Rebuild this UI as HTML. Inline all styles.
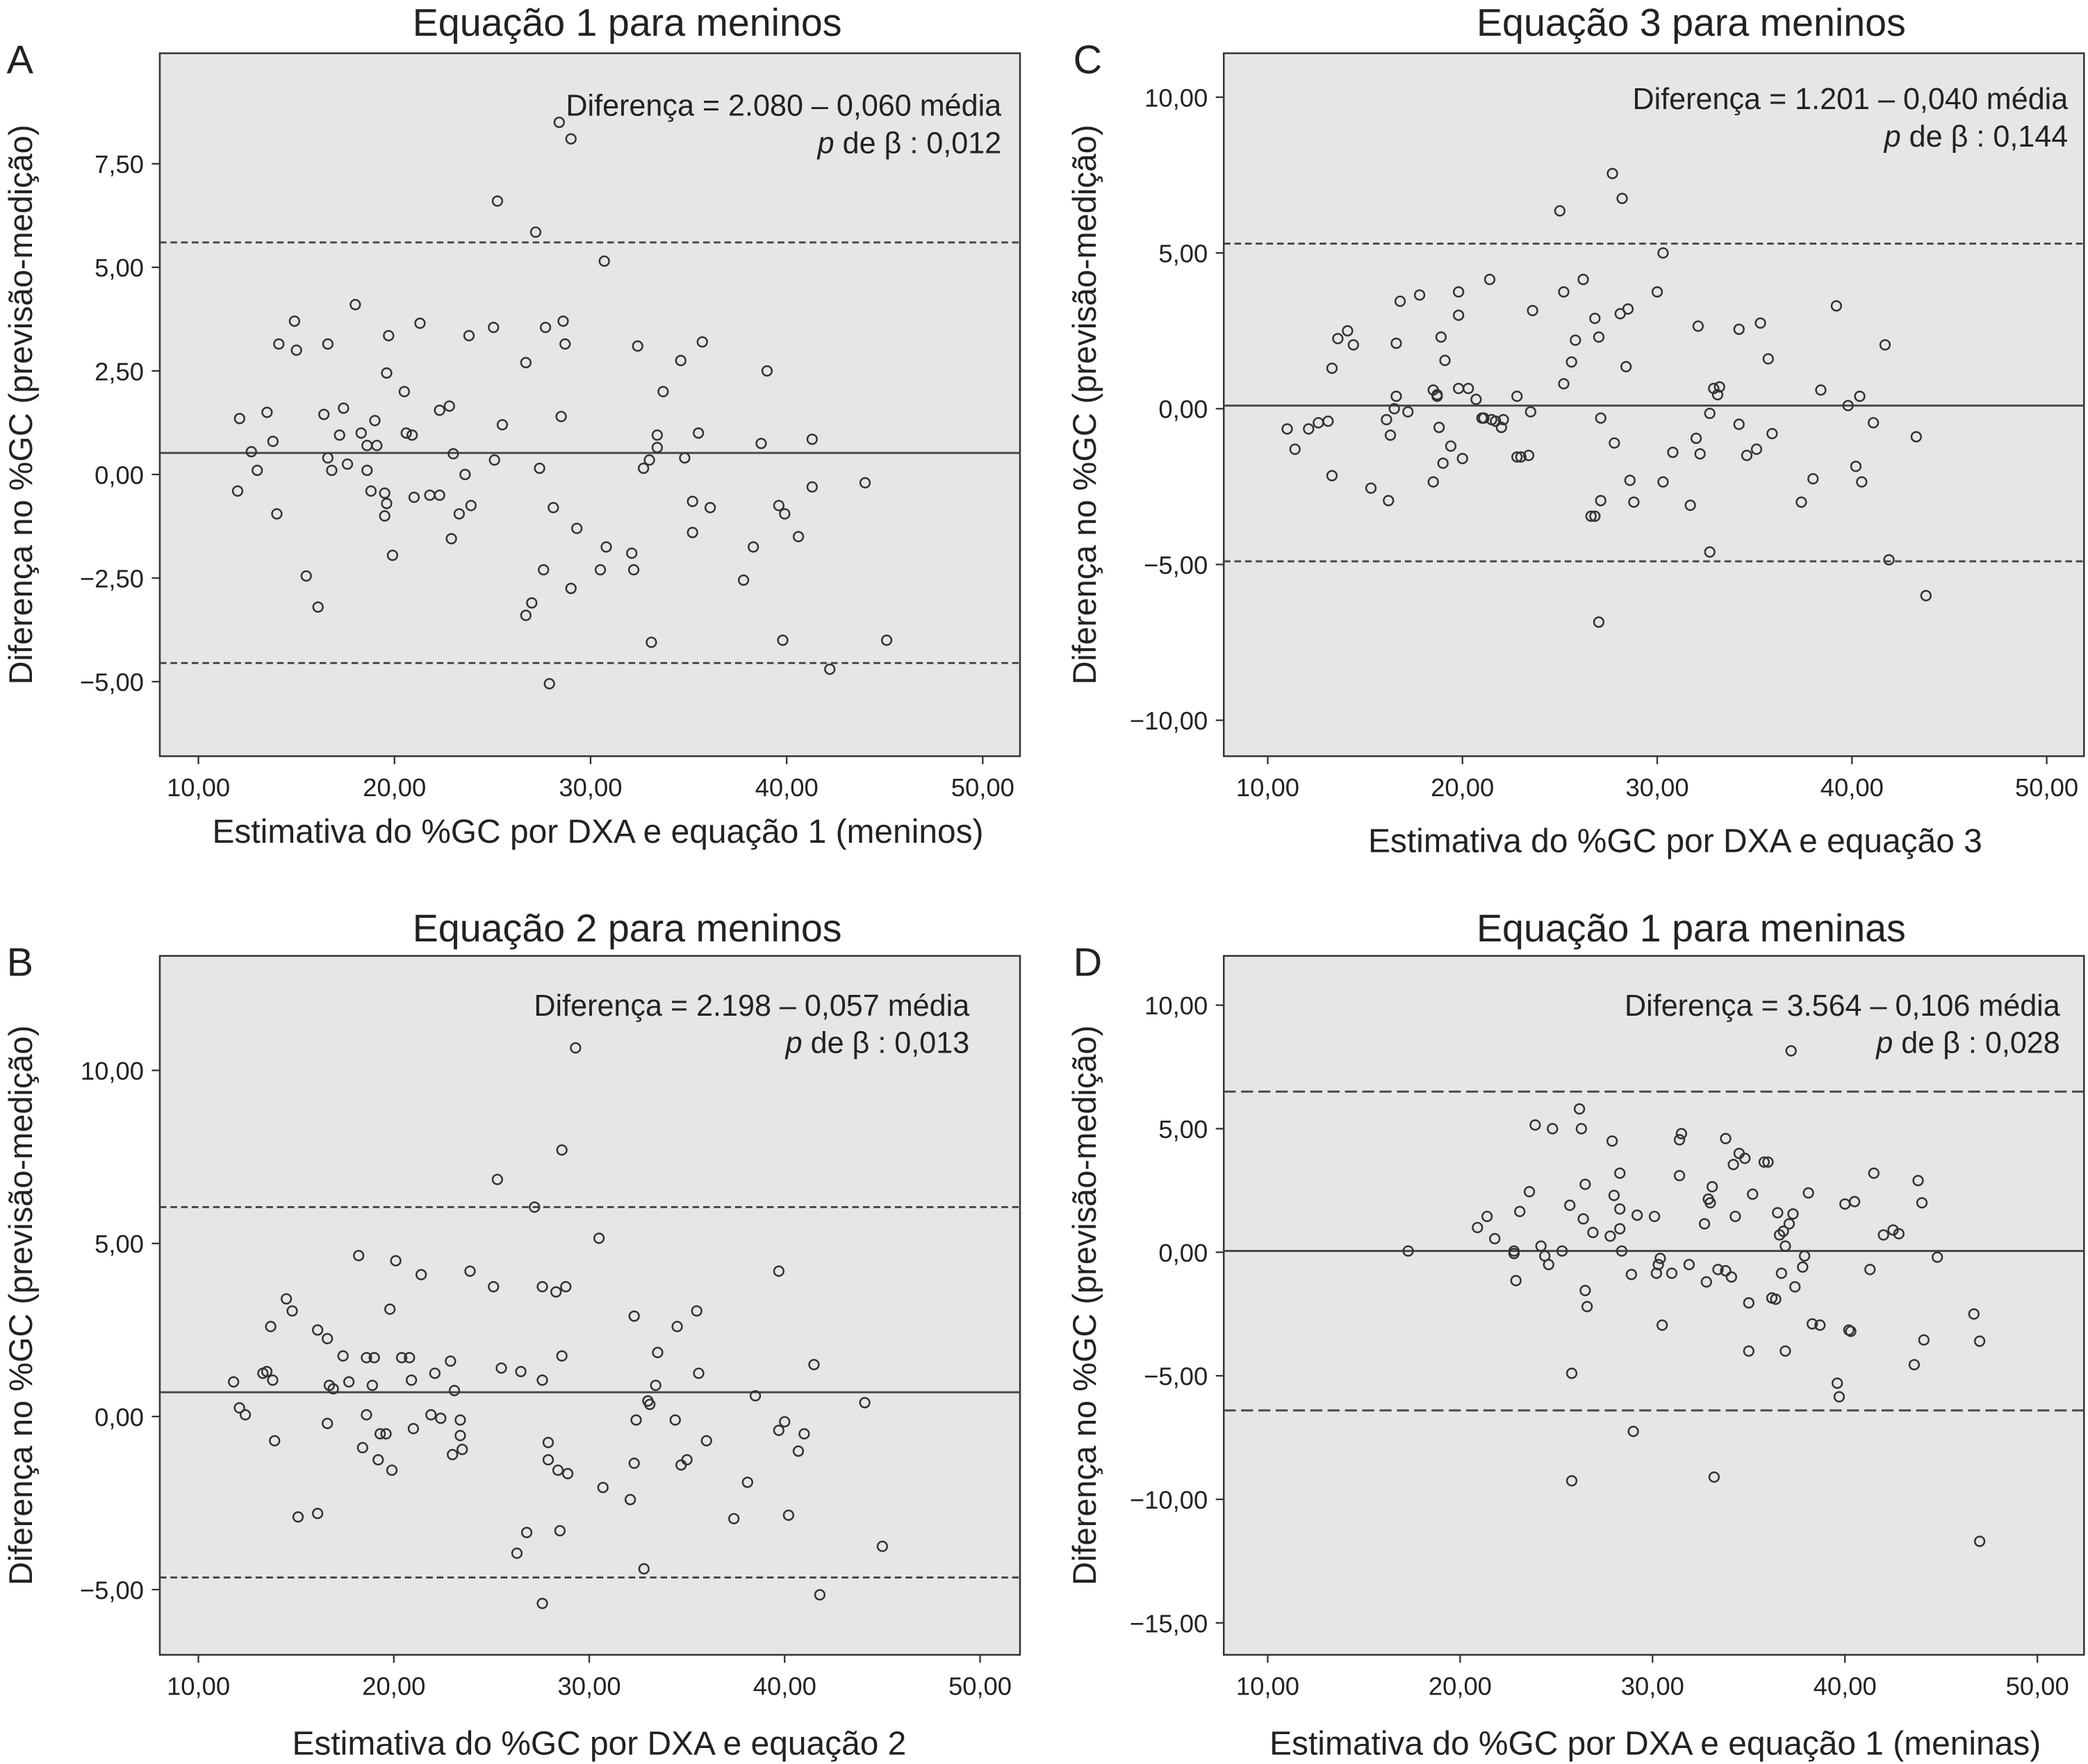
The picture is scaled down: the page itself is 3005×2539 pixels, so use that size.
<!DOCTYPE html>
<html><head><meta charset="utf-8"><style>
html,body{margin:0;padding:0;background:#fff}
svg{display:block;font-family:"Liberation Sans",sans-serif}
</style></head><body>
<svg id="chart" width="3005" height="2539" viewBox="0 0 1568 1325" preserveAspectRatio="none" xmlns="http://www.w3.org/2000/svg"></svg>
<script>
// Panel A data
const aX=[12.0,12.1,12.7,13.0,13.5,13.8,14.0,14.1,14.9,15.0,15.5,16.1,16.4,16.6,16.6,16.8,17.2,17.4,17.6,18.0,18.3,18.6,18.6,18.8,19.0,19.1,19.5,19.6,19.5,19.6,19.7,19.9,20.5,20.6,20.9,21.0,21.3,21.8,22.3,22.3,22.8,22.9,23.0,23.3,23.6,23.8,23.9,25.25,25.05,25.1,25.5,26.7,26.7,27.0,27.2,27.4,27.6,27.7,27.9,28.1,28.4,28.5,28.6,28.7,29.0,29.0,29.3,30.7,30.8,30.5,32.1,32.2,32.4,32.7,33.0,33.1,33.4,33.4,33.7,34.6,34.8,35.2,35.2,35.5,35.7,36.1,37.8,38.3,38.7,39.0,39.6,39.8,39.9,40.6,41.3,41.3,42.2,44.0,45.1];
const aY=[-0.4,1.35,0.55,0.1,1.5,0.8,-0.95,3.15,3.7,3.0,-2.45,-3.2,1.45,3.15,0.4,0.1,0.95,1.6,0.25,4.1,1.0,0.7,0.1,-0.4,1.3,0.7,-0.45,-0.7,-1.0,2.45,3.35,-1.95,2.0,1.0,0.95,-0.55,3.65,-0.5,-0.5,1.55,1.65,-1.55,0.5,-0.95,0.0,3.35,-0.75,6.6,3.55,0.35,1.2,2.7,-3.4,-3.1,5.85,0.15,-2.3,3.55,-5.05,-0.8,8.5,1.4,3.7,3.15,8.1,-2.75,-1.3,5.15,-1.75,-2.3,-1.9,-2.3,3.1,0.15,0.35,-4.05,0.65,0.95,2.0,2.75,0.4,-0.65,-1.4,1.0,3.2,-0.8,-2.55,-1.75,0.75,2.5,-0.75,-4.0,-0.95,-1.5,0.85,-0.3,-4.7,-0.2,-4.0];
const aLines=[0.52,5.6,-4.55];
// Panel C data
const cX=[11.0,11.4,12.1,12.6,13.1,13.3,13.3,13.6,14.1,14.4,15.3,16.1,16.2,16.3,16.5,16.6,16.6,16.8,17.2,17.8,18.5,18.5,18.7,18.7,18.8,18.9,19.0,19.1,19.4,19.8,19.8,19.8,20.0,20.3,20.7,21.0,21.1,21.4,21.5,21.7,22.1,22.0,22.8,22.8,23.0,23.4,23.5,23.6,25.0,25.2,25.2,25.6,25.8,26.2,26.6,26.8,26.8,27.0,27.0,27.1,27.1,27.7,27.8,28.2,28.1,28.5,28.4,28.6,28.8,30.0,30.3,30.3,30.8,31.7,32.1,32.0,32.2,32.7,32.7,32.9,33.1,33.2,34.2,34.2,34.6,35.1,35.3,35.7,35.9,37.4,38.0,38.4,39.2,39.8,40.4,40.2,40.5,41.1,41.7,41.9,43.3,43.8];
const cY=[-0.65,-1.3,-0.65,-0.45,-0.4,1.3,-2.15,2.25,2.5,2.05,-2.55,-0.35,-2.95,-0.85,0.0,0.4,2.1,3.45,-0.1,3.65,0.6,-2.35,0.45,0.4,-0.6,2.3,-1.75,1.55,-1.2,3.75,3.0,0.65,-1.6,0.65,0.3,-0.3,-0.3,4.15,-0.35,-0.4,-0.35,-0.6,0.4,-1.55,-1.55,-1.5,-0.1,3.15,6.35,0.8,3.75,1.5,2.2,4.15,-3.45,-3.45,2.9,-6.85,2.3,-2.95,-0.3,7.55,-1.1,6.75,3.05,3.2,1.35,-2.3,-3.0,3.75,5.0,-2.35,-1.4,-3.1,2.65,-0.95,-1.45,-4.6,-0.15,0.65,0.45,0.7,-0.5,2.55,-1.5,-1.3,2.75,1.6,-0.8,-3.0,-2.25,0.6,3.3,0.1,0.4,-1.85,-2.35,-0.45,2.05,-4.85,-0.9,-6.0];
const cLines=[0.1,5.3,-4.9];
// Panel B data
const bX=[11.8,12.1,12.4,13.3,13.5,13.7,13.8,13.9,14.5,14.8,15.1,16.1,16.1,16.6,16.6,16.7,16.9,17.4,17.7,18.2,18.4,18.6,18.6,18.9,19.0,19.2,19.3,19.6,19.8,19.9,20.1,20.4,20.8,20.9,21.0,21.4,21.9,22.1,22.4,22.9,23.0,23.1,23.4,23.4,23.5,23.9,25.1,25.3,25.5,26.3,26.5,26.8,27.2,27.6,27.6,27.6,27.9,27.9,28.4,28.3,28.6,28.5,28.6,28.9,28.8,29.3,30.5,30.7,32.3,32.3,32.1,32.4,32.8,33.0,33.1,33.4,33.5,34.4,34.5,34.7,35.0,35.5,35.6,36.0,37.4,38.1,38.5,39.7,39.7,40.0,40.2,40.7,41.0,41.5,41.8,44.1,45.0];
const bY=[1.0,0.25,0.05,1.25,1.3,2.6,1.05,-0.7,3.4,3.05,-2.9,-2.8,2.5,2.25,-0.2,0.9,0.8,1.75,1.0,4.65,-0.9,1.7,0.05,0.9,1.7,-1.25,-0.5,-0.5,3.1,-1.55,4.5,1.7,1.7,1.05,-0.35,4.1,0.05,1.25,-0.05,1.6,-1.1,0.75,-0.55,-0.1,-0.95,4.2,3.75,6.85,1.4,-3.95,1.3,-3.35,6.05,1.05,3.75,-5.4,-0.75,-1.25,-1.55,3.6,1.75,-3.3,7.7,-1.65,3.75,10.65,5.15,-2.05,2.9,-1.35,-2.4,-0.1,-4.4,0.45,0.35,0.9,1.85,-0.1,2.6,-1.4,-1.25,3.05,1.25,-0.7,-2.95,-1.9,0.6,4.2,-0.4,-0.15,-2.85,-1.0,-0.5,1.5,-5.15,0.4,-3.75];
const bLines=[0.7,6.05,-4.65];
// Panel D data
const dX=[17.3,20.9,21.4,21.8,22.8,22.8,22.9,23.1,23.6,23.9,24.2,24.4,24.6,24.8,25.3,25.7,25.8,25.8,26.2,26.3,26.4,26.5,26.5,26.6,26.9,27.8,27.9,28.0,28.3,28.3,28.3,28.4,28.9,29.0,29.2,30.1,30.2,30.3,30.4,30.5,31.0,31.4,31.4,31.5,31.9,32.7,32.8,32.9,33.0,33.1,33.2,33.4,33.8,33.8,34.1,34.2,34.3,34.5,34.8,35.0,35.0,35.2,35.8,36.0,36.2,36.4,36.5,36.6,36.7,36.8,36.9,36.9,37.1,37.2,37.3,37.4,37.8,37.9,38.1,38.3,38.7,39.6,39.7,40.0,40.2,40.3,40.5,41.3,41.5,42.0,42.5,42.8,43.6,43.8,44.0,44.1,44.8,46.7,47.0,47.0];
const dY=[0.05,1.0,1.45,0.55,-0.05,0.05,-1.15,1.65,2.45,5.15,0.25,-0.15,-0.5,5.0,0.05,1.9,-4.9,-9.25,5.8,5.0,1.35,-1.55,2.75,-2.2,0.8,0.65,4.5,2.3,3.2,0.95,1.75,0.05,-0.9,-7.25,1.5,1.45,-0.85,-0.5,-0.25,-2.95,-0.85,3.1,4.55,4.8,-0.5,1.15,-1.2,2.15,2.0,2.65,-9.1,-0.7,-0.75,4.6,-1.0,3.55,1.45,4.0,3.8,-4.0,-2.05,2.35,3.65,3.65,-1.85,-1.9,1.6,0.7,-0.85,0.85,-4.0,0.25,1.15,8.15,1.55,-1.4,-0.6,-0.15,2.4,-2.9,-2.95,-5.3,-5.85,1.95,-3.15,-3.2,2.05,-0.7,3.2,0.7,0.9,0.75,-4.55,2.9,2.0,-3.55,-0.2,-2.5,-11.7,-3.6];
const dLines=[0.05,6.5,-6.4];
const xTicks=[10,20,30,40,50];
const xTickLabels=["10,00","20,00","30,00","40,00","50,00"];

const NS="http://www.w3.org/2000/svg";
const svg=document.getElementById('chart');
function mk(tag,attrs,parent){const e=document.createElementNS(NS,tag);for(const k in attrs)e.setAttribute(k,attrs[k]);(parent||svg).appendChild(e);return e;}
function txt(s,attrs,parent){const e=mk('text',attrs,parent);e.textContent=s;return e;}

const panels=[
 {id:'a',letter:'A',lx:5,ly:55,title:'Equação 1 para meninos',ty:27,box:[120,40,766,568],x10:149,x50:738,yv:[7.5,-5],yp:[123,512],yt:[7.5,5,2.5,0,-2.5,-5],ytl:["7,50","5,00","2,50","0,00","−2,50","−5,00"],X:aX,Y:aY,L:aLines,dash:'5,3',xt:'Estimativa do %GC por DXA e equação 1 (meninos)',xtx:449,xty:633,ann:['Diferença = 2.080  – 0,060 média','0,012'],ax:752,ay:87},
 {id:'c',letter:'C',lx:806,ly:55,title:'Equação 3 para meninos',ty:27,box:[919,40,1565,568],x10:952,x50:1537,yv:[10,-10],yp:[73,541],yt:[10,5,0,-5,-10],ytl:["10,00","5,00","0,00","−5,00","−10,00"],X:cX,Y:cY,L:cLines,dash:'5,3',xt:'Estimativa do %GC por DXA e equação 3',xty:640,xtx:1258,ann:['Diferença = 1.201 – 0,040 média','0,144'],ax:1553,ay:82},
 {id:'b',letter:'B',lx:5,ly:733,title:'Equação 2 para meninos',ty:707,box:[120,718,766,1243],x10:149,x50:736,yv:[10,-5],yp:[804,1194],yt:[10,5,0,-5],ytl:["10,00","5,00","0,00","−5,00"],X:bX,Y:bY,L:bLines,dash:'5,3',xt:'Estimativa do %GC por DXA e equação 2',xtx:450,xty:1318,ann:['Diferença = 2.198 – 0,057 média','0,013'],ax:728,ay:763},
 {id:'d',letter:'D',lx:806,ly:733,title:'Equação 1 para meninas',ty:707,box:[919,718,1565,1243],x10:952,x50:1530,yv:[10,-15],yp:[755,1219],yt:[10,5,0,-5,-10,-15],ytl:["10,00","5,00","0,00","−5,00","−10,00","−15,00"],X:dX,Y:dY,L:dLines,dash:'9,4',xt:'Estimativa do %GC por DXA e equação 1 (meninas)',xtx:1243,xty:1318,ann:['Diferença = 3.564 – 0,106 média','0,028'],ax:1547,ay:763}
];

panels.forEach(p=>{
 const g=mk('g',{});
 
 
 const [x0,y0,x1,y1]=p.box;
 const sx=v=>p.x10+(v-10)*(p.x50-p.x10)/40;
 const sy=v=>p.yp[0]+(v-p.yv[0])*(p.yp[1]-p.yp[0])/(p.yv[1]-p.yv[0]);
 const bg=mk('rect',{x:x0,y:y0,width:x1-x0,height:y1-y0,fill:'#e6e6e6',stroke:'#333','stroke-width':1.3},g);
 
 
 const L=txt(p.letter,{x:p.lx,y:p.ly,'font-size':30,fill:'#222'},g);
 
 
 const t=txt(p.title,{x:(x0+x1)/2+28,y:p.ty,'font-size':29,'text-anchor':'middle',fill:'#222'},g);
 
 
 p.yt.forEach((v,i)=>{
  const y=sy(v);
  mk('line',{x1:x0-6,x2:x0,y1:y,y2:y,stroke:'#333','stroke-width':1.2},g);
  const tl=txt(p.ytl[i],{x:x0-12,y:y+7,'font-size':19,'text-anchor':'end',fill:'#222'},g);
  
  
 });
 xTicks.forEach((v,i)=>{
  const x=sx(v);
  mk('line',{x1:x,x2:x,y1:y1,y2:y1+6,stroke:'#333','stroke-width':1.2},g);
  const tl=txt(xTickLabels[i],{x:x,y:y1+30,'font-size':19,'text-anchor':'middle',fill:'#222'},g);
  
  
 });
 const yt=txt('Diferença no %GC (previsão-medição)',{transform:`translate(${x0-96},${(y0+y1)/2}) rotate(-90)`,'font-size':24.5,'text-anchor':'middle',fill:'#222'},g);
 
 
 const xt=txt(p.xt,{x:p.xtx,y:p.xty,'font-size':25,'text-anchor':'middle',fill:'#222'},g);
 
 
 p.L.forEach((v,i)=>{
  const ln=mk('line',{x1:x0,x2:x1,y1:sy(v),y2:sy(v),stroke:'#444','stroke-width':1.5},g);
  if(i>0)ln.setAttribute('stroke-dasharray',p.dash);
  
  
 });
 p.X.forEach((v,i)=>{
  const c=mk('circle',{cx:sx(v),cy:sy(p.Y[i]),r:3.6,fill:'none',stroke:'#333','stroke-width':1.3},g);
  
  
 });
 const a1=txt(p.ann[0],{x:p.ax,y:p.ay,'font-size':22.5,'text-anchor':'end',fill:'#222'},g);
 
 
 const a2=mk('text',{x:p.ax,y:p.ay+28,'font-size':22.5,'text-anchor':'end',fill:'#222'},g);
 
 
 const s1=mk('tspan',{'font-style':'italic'},a2);s1.textContent='p';
 const s2=mk('tspan',{},a2);s2.textContent=' de β : '+p.ann[1];
});
</script>
</body></html>
